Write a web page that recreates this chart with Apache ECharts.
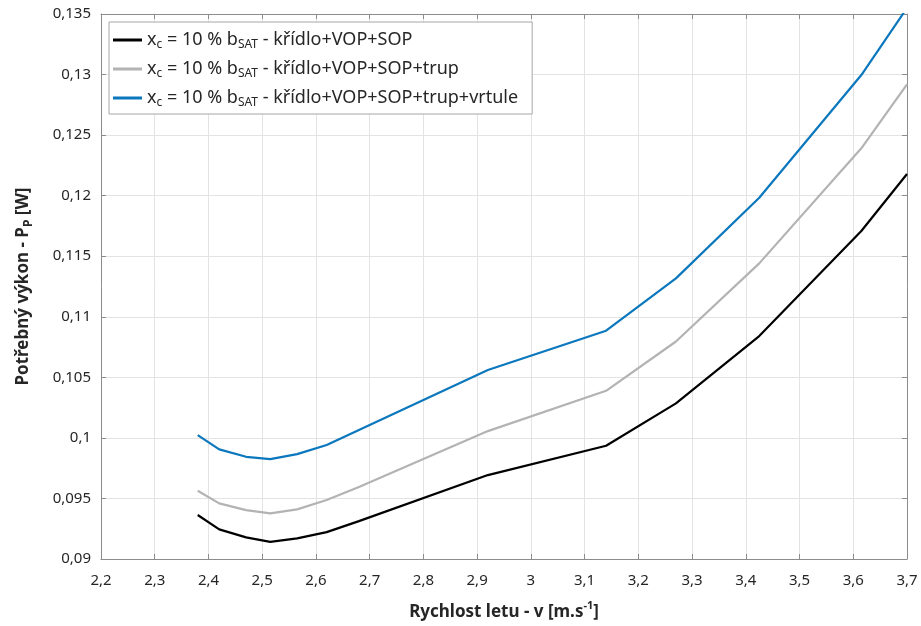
<!DOCTYPE html>
<html>
<head>
<meta charset="utf-8">
<script src="https://cdn.jsdelivr.net/npm/echarts@6/dist/echarts.min.js"></script>
<style>
  html, body { margin: 0; padding: 0; background: #fff; }
  #chart { width: 921px; height: 626px; }
</style>
</head>
<body>
<div id="chart"></div>
<script>
// Flight speed v [m/s]
const speeds = [2.38, 2.42, 2.47, 2.515, 2.565, 2.62, 2.68, 2.92, 3.14, 3.27, 3.425, 3.615, 3.70];

// Required power P_P [W] for each configuration
const powerWingTails = [0.09363, 0.09245, 0.09179, 0.09142, 0.09170, 0.09222, 0.09313, 0.09693, 0.09935, 0.10285, 0.10841, 0.11708, 0.12179];
const powerWithFuselage = [0.09563, 0.09459, 0.09404, 0.09377, 0.09410, 0.09487, 0.09594, 0.10056, 0.10389, 0.10796, 0.11441, 0.12391, 0.12919];
const powerWithPropeller = [0.10023, 0.09905, 0.09844, 0.09825, 0.09866, 0.09941, 0.10065, 0.10560, 0.10885, 0.11317, 0.11983, 0.12996, 0.13550];

const seriesNames = ['křídlo+VOP+SOP', 'křídlo+VOP+SOP+trup', 'křídlo+VOP+SOP+trup+vrtule'];
const seriesColors = ['#000000', '#b3b3b3', '#0b77bd'];

const FONT = 'Noto Sans';

function pairs(xs, ys) { return xs.map((x, i) => [x, ys[i]]); }
function comma(v, d) { return String(+v.toFixed(d)).replace('.', ','); }

const chart = echarts.init(document.getElementById('chart'), null, { renderer: 'canvas' });

const axisLine = { show: true, lineStyle: { color: '#8c8c8c', width: 1 } };
const tick = { show: true, inside: true, length: 5, lineStyle: { color: '#8c8c8c' } };

const option = {
  backgroundColor: '#ffffff',
  animation: false,
  grid: { left: 101, right: 14, top: 14, bottom: 67, containLabel: false },
  legend: {
    orient: 'vertical',
    left: 109,
    top: 22,
    padding: [1, 14, 5, 4],
    itemGap: 1,
    itemWidth: 29,
    itemHeight: 3,
    icon: 'rect',
    backgroundColor: '#ffffff',
    borderColor: '#a6a6a6',
    borderWidth: 1,
    borderRadius: 0,
    data: seriesNames,
    formatter: name => '{t|x}{s|c}{t| = 10 % b}{s|SAT}{t| - ' + name + '}',
    textStyle: {
      color: '#262626',
      rich: {
        t: { fontFamily: FONT, fontSize: 18, color: '#262626', lineHeight: 22, verticalAlign: 'middle' },
        s: { fontFamily: FONT, fontSize: 12, color: '#262626', lineHeight: 14, verticalAlign: 'bottom', padding: [16, 0, 0, 0] }
      }
    }
  },
  xAxis: [{
    type: 'value',
    min: 2.2,
    max: 3.7,
    interval: 0.1,
    axisLine: axisLine,
    axisTick: tick,
    axisLabel: { fontFamily: FONT, fontSize: 15, color: '#262626', margin: 14, formatter: v => comma(v, 2) },
    splitLine: { show: true, lineStyle: { color: '#e3e3e3', width: 1 } },
    name: '{b|Rychlost letu - v [m.s}{sup|-1}{b|]}',
    nameLocation: 'middle',
    nameGap: 41,
    nameTextStyle: {
      rich: {
        b: { fontFamily: FONT, fontSize: 17, fontWeight: 'bold', color: '#262626', lineHeight: 24, verticalAlign: 'middle' },
        sup: { fontFamily: FONT, fontSize: 11, fontWeight: 'bold', color: '#262626', lineHeight: 24, verticalAlign: 'top', padding: [0, 0, 8, 0] }
      }
    }
  }, {
    type: 'value',
    position: 'top',
    min: 2.2,
    max: 3.7,
    interval: 0.1,
    axisLine: axisLine,
    axisTick: tick,
    axisLabel: { show: false },
    splitLine: { show: false }
  }],
  yAxis: [{
    type: 'value',
    min: 0.09,
    max: 0.135,
    interval: 0.005,
    axisLine: axisLine,
    axisTick: tick,
    axisLabel: { fontFamily: FONT, fontSize: 15, color: '#262626', margin: 10, formatter: v => comma(v, 3) },
    splitLine: { show: true, lineStyle: { color: '#e3e3e3', width: 1 } },
    name: '{b|Potřebný výkon - P}{sub|P}{b| [W]}',
    nameLocation: 'middle',
    nameGap: 66,
    nameRotate: 90,
    nameTextStyle: {
      rich: {
        b: { fontFamily: FONT, fontSize: 17, fontWeight: 'bold', color: '#262626', lineHeight: 24, verticalAlign: 'middle' },
        sub: { fontFamily: FONT, fontSize: 12, fontWeight: 'bold', color: '#262626', lineHeight: 24, verticalAlign: 'bottom', padding: [8, 0, 0, 0] }
      }
    }
  }, {
    type: 'value',
    position: 'right',
    min: 0.09,
    max: 0.135,
    interval: 0.005,
    axisLine: axisLine,
    axisTick: tick,
    axisLabel: { show: false },
    splitLine: { show: false }
  }],
  series: [powerWingTails, powerWithFuselage, powerWithPropeller].map((ys, i) => ({
    name: seriesNames[i],
    type: 'line',
    xAxisIndex: 0,
    yAxisIndex: 0,
    data: pairs(speeds, ys),
    showSymbol: false,
    symbol: 'none',
    clip: true,
    color: seriesColors[i],
    lineStyle: { color: seriesColors[i], width: 2.2 },
    z: 3 + i
  }))
};

chart.setOption(option);
</script>
</body>
</html>
